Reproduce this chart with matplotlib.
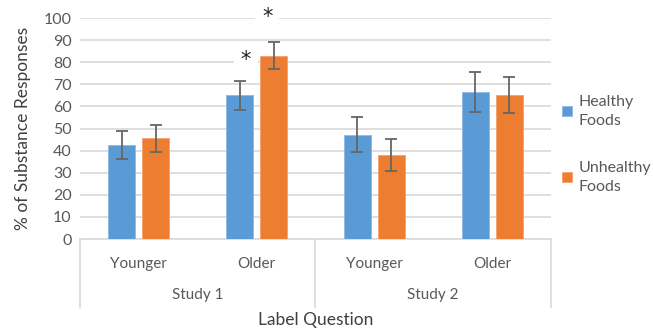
import numpy as np
import matplotlib.pyplot as plt
from matplotlib.transforms import blended_transform_factory

plt.rcParams['font.family'] = ['Lato', 'DejaVu Sans']

groups = ['Younger', 'Older', 'Younger', 'Older']
studies = ['Study 1', 'Study 2']
healthy = [42.5, 65, 47, 66.4]
healthy_lo = [36, 58.5, 39.3, 57.5]
healthy_hi = [49, 71.5, 55, 75.4]
unhealthy = [45.5, 83, 38, 65]
unhealthy_lo = [39.5, 77, 30.8, 56.9]
unhealthy_hi = [51.5, 89, 45.4, 73.3]
# asterisks: (category index, series offset, y value)
stars = [(1, -1, 81), (1, 1, 100.5)]

blue = '#5B9BD5'
orange = '#ED7D31'
txt = '#595959'

fig = plt.figure(figsize=(6.53, 3.28), dpi=100)
ax = fig.add_axes([0.1225, 0.2713, 0.7213, 0.6738])

x = np.arange(len(groups))
w = 0.23
off = 0.145
h_err = [np.array(healthy) - np.array(healthy_lo), np.array(healthy_hi) - np.array(healthy)]
u_err = [np.array(unhealthy) - np.array(unhealthy_lo), np.array(unhealthy_hi) - np.array(unhealthy)]
ax.bar(x - off, healthy, w, color=blue, edgecolor='#8DB9E3', linewidth=0.6, zorder=3,
       label='Healthy\nFoods')
ax.bar(x + off, unhealthy, w, color=orange, edgecolor='#F3A26E', linewidth=0.6, zorder=3,
       label='Unhealthy\nFoods')
ax.errorbar(x - off, healthy, yerr=h_err, fmt='none', ecolor='#666666', elinewidth=1.3,
            capsize=4, capthick=1.3, zorder=4)
ax.errorbar(x + off, unhealthy, yerr=u_err, fmt='none', ecolor='#666666', elinewidth=1.3,
            capsize=4, capthick=1.3, zorder=4)

for ci, side, yv in stars:
    ax.text(ci + side * 0.09, yv, '*', ha='center', va='center', fontsize=15,
            color='#222222', zorder=5, clip_on=False, family='DejaVu Sans',
            bbox=dict(facecolor='white', edgecolor='none', pad=5))

ax.set_xlim(-0.5, 3.5)
ax.set_ylim(0, 100)
ax.set_yticks(np.arange(0, 101, 10))
ax.yaxis.grid(True, color='#D9D9D9', linewidth=1.2, zorder=0)
ax.set_axisbelow(True)
for s in ['top', 'right', 'left']:
    ax.spines[s].set_visible(False)
ax.spines['bottom'].set_color('#D9D9D9')
ax.spines['bottom'].set_linewidth(1.2)
ax.tick_params(axis='y', length=0, labelsize=11.5, labelcolor=txt, pad=6)
ax.tick_params(axis='x', length=0, labelsize=11, labelcolor=txt, pad=13)
ax.set_xticks(x)
ax.set_xticklabels(groups)

tr = blended_transform_factory(ax.transData, ax.transAxes)
for xb in [-0.5, 1.5, 3.5]:
    ax.plot([xb, xb], [0, -0.308], transform=tr, color='#D9D9D9', linewidth=1.2, clip_on=False)
for i, s in enumerate(studies):
    ax.text(0.5 + 2 * i, -0.253, s, transform=tr, ha='center', va='center',
            fontsize=11, color=txt)

ax.text(1.5, -0.367, 'Label Question', transform=tr, ha='center', va='center',
        fontsize=12.5, color='#404040')
ax.set_ylabel('% of Substance Responses', fontsize=12.5, color='#404040', labelpad=9)

leg = ax.legend(loc='center left', bbox_to_anchor=(1.0, 0.428), frameon=False,
                fontsize=11.5, handlelength=0.6, handleheight=0.6, labelspacing=2.05,
                handletextpad=0.4, borderaxespad=0.3)
for t in leg.get_texts():
    t.set_color(txt)
    t.set_linespacing(1.5)

fig.savefig('out.png', dpi=100)
